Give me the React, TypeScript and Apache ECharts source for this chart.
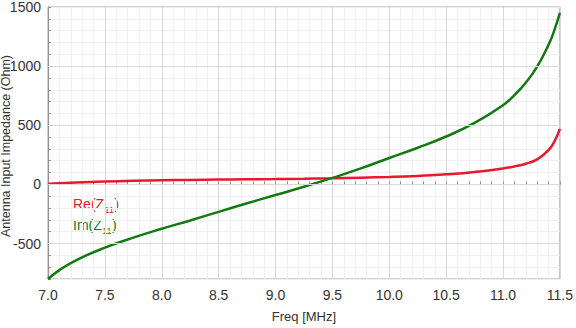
import React, { useEffect, useRef } from "react";
import * as echarts from "echarts";

const freq = [7.0, 7.1, 7.25, 7.5, 7.75, 8.0, 8.25, 8.5, 8.75, 9.0, 9.25, 9.5, 9.75, 10.0, 10.25, 10.5, 10.75, 11.0, 11.1, 11.2, 11.3, 11.4, 11.45, 11.5];
const reZ = [3, 9, 15, 24, 30, 35, 38, 41, 43, 45, 48, 52, 57, 63, 72, 85, 105, 135, 152, 175, 212, 290, 360, 470];
const imZ = [-800, -725, -640, -535, -450, -375, -305, -232, -160, -90, -20, 55, 135, 223, 310, 405, 520, 670, 755, 860, 995, 1180, 1300, 1450];
const yMajor = [-500, 0, 500, 1000];
const yTitle = "Antenna Input Impedance (Ohm)";
const xTitle = "Freq [MHz]";
const legendItems = [
  { head: "Re(Z", sub: "11", tail: ")", color: "#e8192c" },
  { head: "Im(Z", sub: "11", tail: ")", color: "#137a13" },
];

export default function App() {
  const ref = useRef<HTMLDivElement>(null);
  useEffect(() => {
    if (!ref.current) return;
    const chart = echarts.init(ref.current, undefined, { renderer: "svg" });
    const font = "Liberation Sans, Arial, sans-serif";
    const narrow = "'Liberation Sans Narrow', 'Arial Narrow', 'Liberation Sans', sans-serif";
    const ctx = document.createElement("canvas").getContext("2d");
    const measure = (t: string, size: number) => {
      if (!ctx) return t.length * size * 0.5;
      ctx.font = `${size}px ${narrow}`;
      return ctx.measureText(t).width;
    };
    const mainSize = 14;
    const subSize = 9;
    const legendGraphics = legendItems.map((it, i) => {
      const w1 = measure(it.head, mainSize);
      const w2 = measure(it.sub, subSize);
      return {
        type: "group",
        x: 73,
        y: 197 + i * 21,
        children: [
          { type: "text", x: 0, y: 0, style: { text: it.head, fill: it.color, fontSize: mainSize, fontFamily: narrow, textVerticalAlign: "top" } },
          { type: "text", x: w1 + 0.5, y: 8, style: { text: it.sub, fill: it.color, fontSize: subSize, fontFamily: narrow, textVerticalAlign: "top" } },
          { type: "text", x: w1 + w2 + 1, y: 0, style: { text: it.tail, fill: it.color, fontSize: mainSize, fontFamily: narrow, textVerticalAlign: "top" } },
        ],
      };
    });
    chart.setOption({
      animation: false,
      backgroundColor: "#ffffff",
      grid: { left: 48, right: 13, top: 5, bottom: 45, show: true, borderColor: "#a0a0a0", borderWidth: 1 },
      xAxis: {
        type: "value",
        min: 7,
        max: 11.5,
        interval: 0.5,
        name: xTitle,
        nameLocation: "middle",
        nameGap: 31,
        nameTextStyle: { color: "#333", fontSize: 13, fontFamily: narrow },
        axisLine: { show: true, lineStyle: { color: "#909090" } },
        axisTick: { show: true, inside: true, length: 3, lineStyle: { color: "#909090" } },
        minorTick: { show: true, splitNumber: 5, length: 3, lineStyle: { color: "#909090" } },
        axisLabel: { color: "#333", fontSize: 14, fontFamily: narrow, margin: 9, formatter: (v: number) => v.toFixed(1) },
        splitLine: { show: true, lineStyle: { color: "#d9d9d9", width: 1 } },
        minorSplitLine: { show: true, lineStyle: { color: "#f0f0f0", width: 1 } },
      },
      yAxis: {
        type: "value",
        min: -800,
        max: 1500,
        interval: 100,
        axisLine: { show: true, lineStyle: { color: "#909090" } },
        axisTick: { show: true, inside: true, length: 3, lineStyle: { color: "#909090" } },
        axisLabel: {
          color: "#333",
          fontSize: 14,
          fontFamily: narrow,
          margin: 7,
          formatter: (v: number) => (v % 500 === 0 ? String(v) : ""),
        },
        splitLine: { show: true, lineStyle: { color: "#f0f0f0", width: 1 } },
      },
      graphic: [
        {
          type: "text",
          x: 6,
          y: 146,
          rotation: Math.PI / 2,
          style: {
            text: yTitle,
            fill: "#333",
            fontSize: 12.5,
            fontFamily: font,
            textAlign: "center",
            textVerticalAlign: "middle",
          },
        },
        ...legendGraphics,
      ],
      series: [
        {
          type: "line",
          name: "grid",
          data: [],
          silent: true,
          markLine: {
            silent: true,
            symbol: "none",
            label: { show: false },
            lineStyle: { color: "#d9d9d9", width: 1, type: "solid" },
            data: yMajor.map((v) => ({ yAxis: v })),
          },
        },
        {
          type: "line",
          name: "Re(Z11)",
          data: freq.map((f, i) => [f, reZ[i]]),
          smooth: 0.5,
          showSymbol: false,
          lineStyle: { color: "#e8192c", width: 2.5 },
          itemStyle: { color: "#e8192c" },
          z: 3,
        },
        {
          type: "line",
          name: "Im(Z11)",
          data: freq.map((f, i) => [f, imZ[i]]),
          smooth: 0.5,
          showSymbol: false,
          lineStyle: { color: "#137a13", width: 2.5 },
          itemStyle: { color: "#137a13" },
          z: 4,
        },
      ],
    });
    return () => chart.dispose();
  }, []);
  return <div ref={ref} style={{ position: "fixed", left: 0, top: 0, width: 576, height: 328 }} />;
}
